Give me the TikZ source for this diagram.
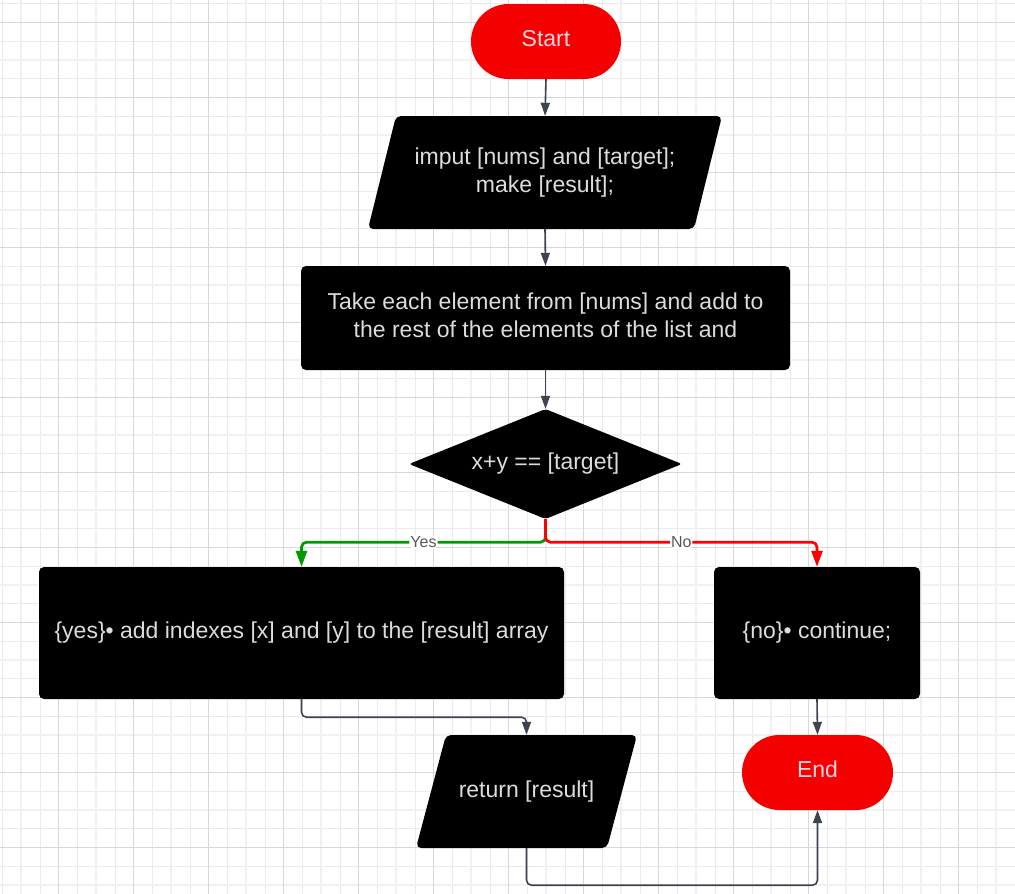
\documentclass[tikz,border=0pt]{standalone}
\usepackage{fontspec}
\setmainfont{Liberation Sans}
\usetikzlibrary{shapes.geometric,arrows.meta}
\definecolor{gridthin}{HTML}{EBEBEB}
\definecolor{gridthick}{HTML}{F1F1F1}
\definecolor{griddark}{HTML}{D8D8D8}
\definecolor{termred}{HTML}{F50000}
\definecolor{termtxt}{HTML}{FFD6DE}
\definecolor{boxtxt}{HTML}{DCDCDC}
\definecolor{conn}{HTML}{3D4350}
\definecolor{yesgreen}{HTML}{009A00}
\definecolor{nored}{HTML}{FF0000}
\definecolor{lbl}{HTML}{595959}
\tikzset{
  every node/.style={font=\fontsize{23}{28}\selectfont, align=center, inner sep=0pt},
  term/.style={fill=termred, text=termtxt, rounded corners=37.5pt, minimum width=150pt, minimum height=75pt,
    text height=16.5pt, text depth=6pt},
  proc/.style={fill=black, text=boxtxt, rounded corners=5pt},
  iofill/.style={fill=black, rounded corners=5pt},
  io/.style={text=boxtxt},
  dec/.style={diamond, fill=black, text=boxtxt, rounded corners=3pt, shape aspect=2.48},
  conline/.style={draw=conn, line width=1.6pt, rounded corners=5pt, -{Triangle[length=13pt,width=9pt]}},
  yesline/.style={draw=yesgreen, line width=2.7pt, rounded corners=5pt, -{Triangle[length=16pt,width=11pt]}},
  noline/.style={draw=nored, line width=2.7pt, rounded corners=5pt, -{Triangle[length=16pt,width=11pt]}},
  elabel/.style={fill=white, inner sep=1pt, text=lbl, font=\fontsize{16}{19}\selectfont},
}
\begin{document}
\begin{tikzpicture}[x=1pt,y=-1pt]
  % background and grid
  \fill[white] (0,0) rectangle (1015,894);
  \useasboundingbox (0,0) rectangle (1015,894);
  \begin{scope}
    \clip (0,0) rectangle (1015,894);
    \foreach \i in {0,...,54} {
      \pgfmathsetmacro{\gx}{2.7+18.75*\i}
      \draw[gridthin, line width=1pt] (\gx,0) -- (\gx,894);
    }
    \foreach \i in {0,...,47} {
      \pgfmathsetmacro{\gy}{3.6+18.75*\i}
      \draw[gridthin, line width=1pt] (0,\gy) -- (1015,\gy);
    }
    \foreach \i in {0,...,13} {
      \pgfmathsetmacro{\gx}{20.8+75*\i}
      \draw[gridthick, line width=2.5pt] (\gx,0) -- (\gx,894);
    }
    \foreach \i in {-1,...,11} {
      \pgfmathsetmacro{\gy}{59.8+75*\i}
      \draw[gridthick, line width=2.5pt] (0,\gy) -- (1015,\gy);
    }
    \foreach \i in {0,...,12} {
      \pgfmathsetmacro{\gx}{58.3+75*\i}
      \draw[griddark, line width=1pt] (\gx,0) -- (\gx,894);
    }
    \foreach \i in {0,...,11} {
      \pgfmathsetmacro{\gy}{22.3+75*\i}
      \draw[griddark, line width=1pt] (0,\gy) -- (1015,\gy);
    }
  \end{scope}

  % parallelogram bodies
  \fill[iofill] (396,116) -- (722,116) -- (694,229) -- (368,229) -- cycle;
  \fill[iofill] (446,735) -- (637,735) -- (607,848) -- (416,848) -- cycle;

  % nodes
  \node[term] (start) at (546,41.5) {Start};
  \node[io, minimum width=326pt, minimum height=113pt] (input) at (545,172.5)
    {imput [nums] and [target];\\make [result];};
  \node[proc, minimum width=489pt, minimum height=104pt, text depth=6pt] (take) at (545.5,318)
    {Take each element from [nums] and add to\\the rest of the elements of the list and};
  \node[dec, minimum width=273pt, minimum height=110pt] (check) at (545.5,464) {x+y == [target]};
  \node[proc, minimum width=525pt, minimum height=132pt] (yesbox) at (301.5,633)
    {\{yes\}• add indexes [x] and [y] to the [result] array};
  \node[proc, minimum width=206pt, minimum height=132pt] (nobox) at (817,633)
    {\{no\}• continue;};
  \node[io, minimum width=191pt, minimum height=113pt] (ret) at (526.5,791.5) {return [result]};
  \node[term, minimum width=151pt] (finish) at (817.5,772.5) {End};

  % connectors
  \draw[conline] (start.south) -- (input.north);
  \draw[conline] (input.south) -- (take.north);
  \draw[conline] (take.south) -- (check.north);
  \draw[yesline] (check.south) -- ++(0,23) -| node[pos=0.25, elabel] {Yes} (yesbox.north);
  \draw[noline] (check.south) -- ++(0,23) -| node[pos=0.25, elabel] {No} (nobox.north);
  \draw[conline] (yesbox.south) -- ++(0,18) -| (ret.north);
  \draw[conline] (nobox.south) -- (finish.north);
  \draw[conline] (ret.south) -- ++(0,37) -| (finish.south);
\end{tikzpicture}
\end{document}
